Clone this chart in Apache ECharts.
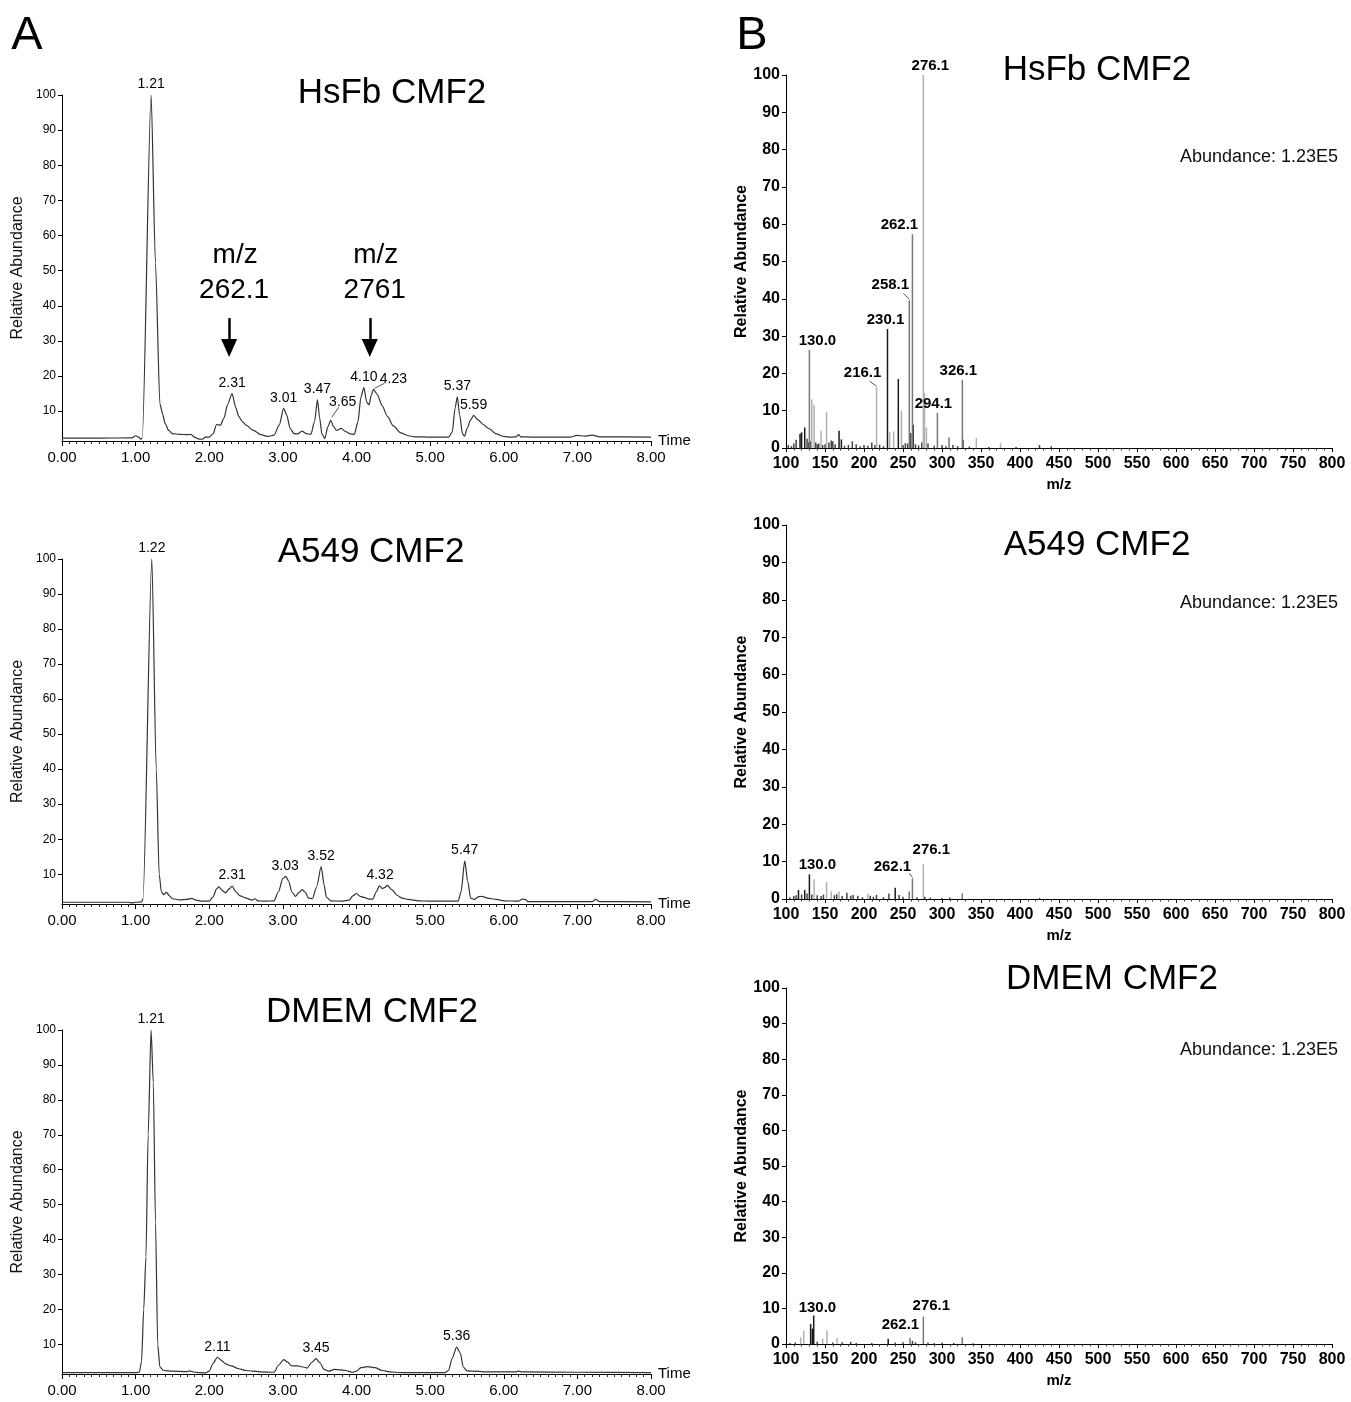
<!DOCTYPE html>
<html><head><meta charset="utf-8">
<script src="https://cdn.jsdelivr.net/npm/echarts@6/dist/echarts.min.js"></script>
<style>html,body{margin:0;padding:0;background:#fff}#c{width:1351px;height:1402px}</style>
</head><body><div id="c"></div>
<script>
// ---------- DATA ----------
const timeTicks = [0, 1, 2, 3, 4, 5, 6, 7, 8];
const abundanceTicksA = [10, 20, 30, 40, 50, 60, 70, 80, 90, 100];
const abundanceTicksB = [0, 10, 20, 30, 40, 50, 60, 70, 80, 90, 100];
const mzTicks = [100, 150, 200, 250, 300, 350, 400, 450, 500, 550, 600, 650, 700, 750, 800];

const panelTitles = ['HsFb CMF2', 'A549 CMF2', 'DMEM CMF2'];
const abundanceNote = 'Abundance: 1.23E5';

// Chromatograms: [time (min), relative abundance]
const chromHsFb = [[0,2.3],[0.5,2.3],[0.95,2.4],[1.0,3.0],[1.04,2.6],[1.07,2.0],[1.09,2.4],[1.21,100],[1.27,52],[1.33,12],[1.37,9],[1.40,6.5],[1.45,4.5],[1.5,3.6],[1.6,3.4],[1.7,3.3],[1.75,3.4],[1.8,2.6],[1.85,2.1],[1.9,2.0],[1.95,2.6],[2.0,2.6],[2.05,3.5],[2.1,6.2],[2.15,6],[2.2,8],[2.25,12],[2.31,15],[2.36,11],[2.4,8.5],[2.45,7],[2.5,6],[2.6,4.5],[2.7,3.3],[2.8,2.8],[2.88,3.2],[2.95,6],[3.01,10.8],[3.05,9],[3.1,5],[3.15,3.6],[3.2,3.5],[3.26,4.3],[3.32,3.6],[3.38,3.4],[3.43,7],[3.47,13.2],[3.5,8],[3.53,3.5],[3.57,2.2],[3.61,5.5],[3.65,7.4],[3.69,5.5],[3.73,4.5],[3.79,5.1],[3.85,4.2],[3.92,3.5],[3.97,3.4],[4.02,7],[4.06,14],[4.10,16.7],[4.14,12.5],[4.17,11.8],[4.2,14.5],[4.23,16.2],[4.28,14.8],[4.35,11.5],[4.42,8.5],[4.5,5.8],[4.6,3.8],[4.7,3.0],[4.8,2.7],[5.0,2.6],[5.25,2.6],[5.3,4],[5.34,11],[5.37,14.1],[5.40,9],[5.44,3.5],[5.47,2.9],[5.5,5],[5.55,7.5],[5.59,8.8],[5.65,7.5],[5.72,6.2],[5.8,5],[5.9,3.5],[6.0,2.8],[6.1,2.6],[6.17,2.7],[6.2,3.3],[6.23,2.7],[6.4,2.6],[6.9,2.6],[7.0,3.1],[7.1,2.9],[7.2,3.2],[7.3,2.7],[8.0,2.6]];
const chromA549 = [[0,2.0],[0.9,2.0],[0.95,1.8],[1.0,2.0],[1.08,2.1],[1.10,3],[1.22,100],[1.28,40],[1.32,10],[1.35,5],[1.38,4.2],[1.42,4.8],[1.46,3.8],[1.5,3.0],[1.6,2.7],[1.7,2.8],[1.76,3.1],[1.82,2.6],[1.9,2.3],[2.0,2.3],[2.05,3.5],[2.1,5.8],[2.13,6.4],[2.18,5.3],[2.22,4.7],[2.27,5.8],[2.31,6.6],[2.36,5],[2.42,3.8],[2.5,3.2],[2.58,2.6],[2.62,3.0],[2.66,2.4],[2.75,2.3],[2.88,2.4],[2.94,5],[3.0,8.8],[3.04,9.4],[3.08,8],[3.12,5],[3.17,3.7],[3.22,4.8],[3.26,5.6],[3.3,5],[3.35,3.2],[3.4,3],[3.46,6.5],[3.52,12.2],[3.56,7],[3.59,3.5],[3.65,2.4],[3.8,2.3],[3.9,2.6],[3.95,3.8],[4.0,4.5],[4.05,3.7],[4.1,3.4],[4.17,2.9],[4.22,2.9],[4.27,5],[4.31,6.7],[4.35,5.9],[4.38,6.2],[4.42,6.8],[4.48,5.6],[4.55,4],[4.62,3.2],[4.7,2.8],[4.85,2.4],[5.0,2.3],[5.38,2.3],[5.42,5],[5.47,13.8],[5.51,8],[5.55,3.2],[5.6,2.8],[5.66,3.6],[5.7,3.7],[5.78,3.2],[5.9,2.8],[6.0,2.4],[6.2,2.3],[6.25,2.9],[6.29,2.8],[6.33,2.2],[7.2,2.2],[7.25,2.8],[7.3,2.2],[8.0,2.1]];
const chromDMEM = [[0,1.9],[1.0,1.9],[1.05,2],[1.08,5],[1.11,20],[1.14,35],[1.17,70],[1.21,100],[1.24,85],[1.27,45],[1.3,10],[1.33,3.5],[1.38,2.5],[1.5,2.3],[1.7,2.2],[1.73,2.4],[1.8,2.0],[1.95,1.8],[2.0,2.3],[2.05,4.5],[2.11,6.3],[2.16,5.5],[2.22,4.4],[2.3,3.8],[2.4,3.0],[2.5,2.5],[2.7,2.1],[2.88,2.0],[2.94,4],[3.01,5.6],[3.06,5],[3.12,3.8],[3.2,3.8],[3.28,3.5],[3.33,3.2],[3.39,4.8],[3.45,5.9],[3.5,4.8],[3.56,2.8],[3.62,2.3],[3.7,2.8],[3.78,2.7],[3.85,2.5],[3.95,2.0],[4.0,2.3],[4.06,3.3],[4.15,3.6],[4.25,3.3],[4.35,2.5],[4.45,2.1],[4.6,1.9],[5.2,1.9],[5.25,2.5],[5.3,6],[5.36,9.2],[5.41,7.5],[5.45,3.5],[5.5,2.4],[5.6,2.3],[5.8,2.1],[6.15,2.1],[6.2,2.3],[6.25,2.1],[7.0,2.0],[8.0,1.9]];

// Peak labels: [time, abundance, text]
const peaksHsFb = [[1.21,100,'1.21'],[2.31,15,'2.31'],[3.01,10.8,'3.01'],[3.47,13.2,'3.47'],[3.65,7.4,'3.65'],[4.10,16.7,'4.10'],[4.23,16.2,'4.23'],[5.37,14.1,'5.37'],[5.59,8.8,'5.59']];
const peaksA549 = [[1.22,100,'1.22'],[2.31,6.6,'2.31'],[3.03,9.4,'3.03'],[3.52,12.2,'3.52'],[4.32,6.8,'4.32'],[5.47,13.8,'5.47']];
const peaksDMEM = [[1.21,100,'1.21'],[2.11,6.3,'2.11'],[3.45,5.9,'3.45'],[5.36,9.2,'5.36']];

// Arrow annotations in HsFb chromatogram: [time, from abundance, to abundance, line1, line2]
const arrowsHsFb = [[2.27,36.5,28.0,'m/z','262.1'],[4.18,36.5,28.0,'m/z','2761']];

// Mass spectra sticks: [m/z, relative abundance]
const specHsFbDark = [[118,3.8],[120,4.2],[124,5.5],[168,4.6],[171,2.3],[230.1,31.9],[244,18.5],[263,6.2]];
const specHsFbGray = [[130.0,26.3],[258.1,39.6],[262.1,57.3],[294.1,9.4],[309,2.8],[326.1,18.3]];
const specHsFbLight = [[133,13],[136,11.6],[145,4.6],[152,9.6],[216.1,16.3],[233,4.2],[238,4.5],[248,10],[276.1,100],[277.5,14.7],[280,5.5],[344,2.7],[375,1.3]];
const specHsFbNoise = [[103,0.8],[107,0.5],[110,1.2],[113,2.2],[127,2.5],[129,1.5],[131,1.8],[138,1.5],[140,1.0],[142,1.2],[147,0.8],[150,1.0],[155,1.5],[158,2.0],[160,1.8],[163,1.0],[175,0.6],[180,0.8],[185,1.8],[190,1.0],[195,0.5],[200,0.8],[205,0.6],[210,1.5],[214,0.8],[220,0.9],[225,0.5],[250,0.8],[253,1.3],[256,1.2],[260,4.0],[266,1.0],[270,0.7],[274,1.5],[282,1.2],[290,0.6],[300,0.8],[305,0.5],[314,0.8],[320,0.5],[327,2.2],[335,0.4],[360,0.3],[395,0.3],[425,0.8],[440,0.5]];
const specHsFbLabels = [[130.0,26.3,'130.0'],[216.1,16.3,'216.1'],[230.1,31.9,'230.1'],[258.1,39.6,'258.1'],[262.1,57.3,'262.1'],[276.1,100,'276.1'],[294.1,9.4,'294.1'],[326.1,18.3,'326.1']];

const specA549Dark = [[116,2.4],[124,2.4],[130.0,6.6],[240,3.0]];
const specA549Gray = [[258,2.0],[262.1,5.5],[326,1.5]];
const specA549Light = [[136,5.3],[152,4.5],[158,2.0],[168,2.0],[205,1.5],[276.1,9.3]];
const specA549Noise = [[105,0.5],[110,0.8],[113,1.0],[120,1.2],[127,1.5],[133,1.2],[140,1.0],[145,0.8],[148,1.2],[162,1.0],[165,1.3],[172,0.8],[178,1.7],[183,0.9],[186,1.1],[192,0.9],[198,0.5],[208,0.9],[212,0.6],[216,1.1],[225,0.5],[232,1.5],[245,1.1],[250,0.6],[268,0.5],[278,0.6],[285,0.4],[300,0.3],[310,0.4],[425,0.3]];
const specA549Labels = [[130.0,6.6,'130.0'],[262.1,5.5,'262.1'],[276.1,9.3,'276.1']];

const specDMEMDark = [[131.6,5.6],[133.8,4.3],[135.5,8.0],[231,1.5]];
const specDMEMGray = [[259,1.7],[276.1,7.7],[326,1.9]];
const specDMEMLight = [[118.8,1.9],[122.7,3.8],[147,1.5],[152.5,3.8],[165.4,1.7]];
const specDMEMNoise = [[105,0.3],[112,0.4],[140,0.6],[160,0.4],[172,0.5],[183,0.6],[190,0.3],[210,0.3],[240,0.4],[250,0.5],[262.1,0.9],[266,0.5],[282,0.4],[290,0.3],[300,0.4],[315,0.3],[340,0.2]];
const specDMEMLabels = [[130.0,7.6,'130.0'],[262.1,0.9,'262.1'],[276.1,7.7,'276.1']];

// ---------- LAYOUT / STYLE ----------
const FONT = "'Liberation Sans', Arial, sans-serif";
const NARROW = "'Liberation Sans Narrow', 'Liberation Sans', Arial, sans-serif";
const gridA = [{top:95,bottom:441},{top:559,bottom:904},{top:1030,bottom:1374}];
const gridB = [{top:75,bottom:448},{top:525,bottom:899},{top:988,bottom:1344}];
const A_LEFT = 62, A_RIGHT = 651, B_LEFT = 786, B_RIGHT = 1332;
const yMinA = 1.5;
const peakLabelShift = {'3.65':[12,-8],'4.23':[20,0]};
const specLabelShift = [
  {'130.0':[8,0],'216.1':[-14,-5],'230.1':[-2,0],'258.1':[-19,-6],'262.1':[-13,0],'276.1':[7,0],'294.1':[-4,0],'326.1':[-4,0]},
  {'130.0':[8,0],'262.1':[-20,-3],'276.1':[8,-5]},
  {'130.0':[8,0],'262.1':[-12,-7],'276.1':[8,-2]}
];
// leader lines: [axis index, label text, pixel start offset, pixel end offset] relative to the labelled point
const leaderStyle = [
  [0, '3.65', [1,-3], [8,-13]],
  [0, '4.23', [1,-1], [11,-6]],
  [1, '216.1', [0,-1], [-7,-6]],
  [1, '258.1', [0,-1], [-6,-7]],
  [3, '262.1', [0,-1], [-3,-5]]
];
const titlePosA = [[392,93],[371,552],[372,1012]];
const titlePosB = [[1097,70],[1097,545],[1112,979]];
const notePosB = [[1259,157],[1259,603],[1259,1050]];

const chroms = [chromHsFb, chromA549, chromDMEM];
const peaks = [peaksHsFb, peaksA549, peaksDMEM];
const specs = [
  [specHsFbNoise, specHsFbDark, specHsFbGray, specHsFbLight, specHsFbLabels],
  [specA549Noise, specA549Dark, specA549Gray, specA549Light, specA549Labels],
  [specDMEMNoise, specDMEMDark, specDMEMGray, specDMEMLight, specDMEMLabels]
];
const stickColors = ['#444', '#1a1a1a', '#777', '#b0b0b0'];

const grids = [], xAxes = [], yAxes = [], series = [], graphics = [];
const labelSets = []; // per axis index: list of [x, y, text]
const txt = (x, y, text, font, fill) => ({type:'text', x:x, y:y, silent:true,
  style:{text:text, font:font, fill:fill || '#000', align:'center', verticalAlign:'middle', textAlign:'center', textVerticalAlign:'middle'}});

for (let i = 0; i < 3; i++) {
  // Chromatogram grid (left)
  grids.push({left:A_LEFT, top:gridA[i].top, width:A_RIGHT-A_LEFT, height:gridA[i].bottom-gridA[i].top, containLabel:false, outerBoundsMode:'none'});
  xAxes.push({
    gridIndex: grids.length-1, type:'value', min:timeTicks[0], max:timeTicks[timeTicks.length-1], interval:1,
    name:'Time', nameLocation:'end', nameGap:7, nameTextStyle:{fontFamily:FONT, fontSize:15, color:'#000', verticalAlign:'middle'},
    axisLine:{onZero:false, lineStyle:{color:'#000', width:1}},
    axisTick:{show:true, length:5, lineStyle:{color:'#000'}},
    minorTick:{show:true, splitNumber:10, length:3, lineStyle:{color:'#222'}},
    axisLabel:{fontFamily:FONT, fontSize:15, color:'#000', margin:9, formatter:v=>v.toFixed(2)},
    splitLine:{show:false}, minorSplitLine:{show:false}
  });
  yAxes.push({
    gridIndex: grids.length-1, type:'value', min:yMinA, max:100,
    name:'Relative Abundance', nameLocation:'middle', nameGap:36, nameRotate:90,
    nameTextStyle:{fontFamily:FONT, fontSize:16, color:'#111'},
    axisLine:{show:true, onZero:false, lineStyle:{color:'#000', width:1}},
    axisTick:{show:true, length:4, customValues:abundanceTicksA, lineStyle:{color:'#000'}},
    axisLabel:{fontFamily:NARROW, fontSize:12, color:'#000', margin:6, customValues:abundanceTicksA},
    splitLine:{show:false}
  });
  const ax = xAxes.length-1;
  labelSets[ax] = peaks[i];
  const s = {
    type:'line', xAxisIndex:ax, yAxisIndex:ax, data:chroms[i], showSymbol:false, symbol:'none',
    smooth:0.25, smoothMonotone:'x', lineStyle:{color:'#333', width:1.2}, silent:true, z:3
  };
  if (i === 0) {
    s.markLine = {
      silent:true, symbol:['none','triangle'], symbolSize:[16,18],
      lineStyle:{color:'#000', width:2.5, type:'solid'}, label:{show:false},
      data: arrowsHsFb.map(a => [{coord:[a[0],a[1]]},{coord:[a[0],a[2]]}])
    };
  }
  series.push(s);
  series.push({
    type:'scatter', xAxisIndex:ax, yAxisIndex:ax, symbolSize:1, itemStyle:{color:'rgba(0,0,0,0)', opacity:1}, silent:true, z:4,
    data: peaks[i].map(p => {
      const sh = peakLabelShift[p[2]];
      const d = {value:p};
      if (i === 0 && sh) d.label = {offset:sh};
      return d;
    }),
    label:{show:true, position:'top', distance:3, formatter:p=>p.data.value[2], fontFamily:NARROW, fontSize:14, color:'#000'}
  });

  // Mass spectrum grid (right)
  grids.push({left:B_LEFT, top:gridB[i].top, width:B_RIGHT-B_LEFT, height:gridB[i].bottom-gridB[i].top, containLabel:false, outerBoundsMode:'none'});
  xAxes.push({
    gridIndex: grids.length-1, type:'value', min:mzTicks[0], max:mzTicks[mzTicks.length-1], interval:50,
    name:'m/z', nameLocation:'middle', nameGap:29, nameTextStyle:{fontFamily:FONT, fontSize:15, fontWeight:'bold', color:'#000'},
    axisLine:{onZero:false, lineStyle:{color:'#000', width:1}},
    axisTick:{show:true, length:4, lineStyle:{color:'#000'}},
    minorTick:{show:true, splitNumber:5, length:2.5, lineStyle:{color:'#333'}},
    axisLabel:{fontFamily:FONT, fontSize:16, fontWeight:'bold', color:'#000', margin:8},
    splitLine:{show:false}, minorSplitLine:{show:false}
  });
  yAxes.push({
    gridIndex: grids.length-1, type:'value', min:abundanceTicksB[0], max:abundanceTicksB[abundanceTicksB.length-1], interval:10,
    name:'Relative Abundance', nameLocation:'middle', nameGap:33, nameRotate:90,
    nameTextStyle:{fontFamily:FONT, fontSize:16, fontWeight:'bold', color:'#000'},
    axisLine:{show:true, onZero:false, lineStyle:{color:'#000', width:1}},
    axisTick:{show:true, length:4, lineStyle:{color:'#000'}},
    axisLabel:{fontFamily:FONT, fontSize:16, fontWeight:'bold', color:'#000', margin:6},
    splitLine:{show:false}
  });
  const bx = xAxes.length-1;
  const sp = specs[i];
  labelSets[bx] = sp[4];
  for (let k = 0; k < 4; k++) {
    series.push({
      type:'bar', xAxisIndex:bx, yAxisIndex:bx, data:sp[k], barWidth:1.5, barGap:'-100%',
      itemStyle:{color:stickColors[k]}, silent:true, z:2+k
    });
  }
  const shifts = specLabelShift[i];
  series.push({
    type:'scatter', xAxisIndex:bx, yAxisIndex:bx, symbolSize:1, itemStyle:{color:'rgba(0,0,0,0)', opacity:1}, silent:true, z:8,
    data: sp[4].map(p => ({value:p, label:{offset:shifts[p[2]] || [0,0]}})),
    label:{show:true, position:'top', distance:1, formatter:p=>p.data.value[2], fontFamily:FONT, fontSize:15, fontWeight:'bold', color:'#000'}
  });

  graphics.push(txt(titlePosA[i][0], titlePosA[i][1], panelTitles[i], "35px "+FONT));
  graphics.push(txt(titlePosB[i][0], titlePosB[i][1], panelTitles[i], "35px "+FONT));
  graphics.push(txt(notePosB[i][0], notePosB[i][1], abundanceNote, "18px "+FONT, '#111'));
}

graphics.push(txt(27, 36, 'A', "47px "+FONT));
graphics.push(txt(752, 36, 'B', "47px "+FONT));

const chart = echarts.init(document.getElementById('c'), null, {renderer:'canvas'});
chart.setOption({
  animation:false, backgroundColor:'#fff',
  grid:grids, xAxis:xAxes, yAxis:yAxes, series:series, graphic:graphics
});

// annotation texts above arrows and label leader lines, placed from data coordinates
const extra = [];
arrowsHsFb.forEach(a => {
  const p = chart.convertToPixel({xAxisIndex:0, yAxisIndex:0}, [a[0], a[1]]);
  extra.push(txt(p[0]+5, p[1]-28, a[4], "28px "+FONT));
  extra.push(txt(p[0]+6, p[1]-63, a[3], "28px "+FONT));
});
leaderStyle.forEach(([axi, text, s0, s1]) => {
  const item = labelSets[axi].find(d => d[2] === text);
  if (!item) return;
  const p = chart.convertToPixel({xAxisIndex:axi, yAxisIndex:axi}, [item[0], item[1]]);
  extra.push({type:'line', silent:true, z:10,
    shape:{x1:p[0]+s0[0], y1:p[1]+s0[1], x2:p[0]+s1[0], y2:p[1]+s1[1]},
    style:{stroke:'#555', lineWidth:1}});
});
chart.setOption({graphic: graphics.concat(extra)});
</script>
</body></html>
